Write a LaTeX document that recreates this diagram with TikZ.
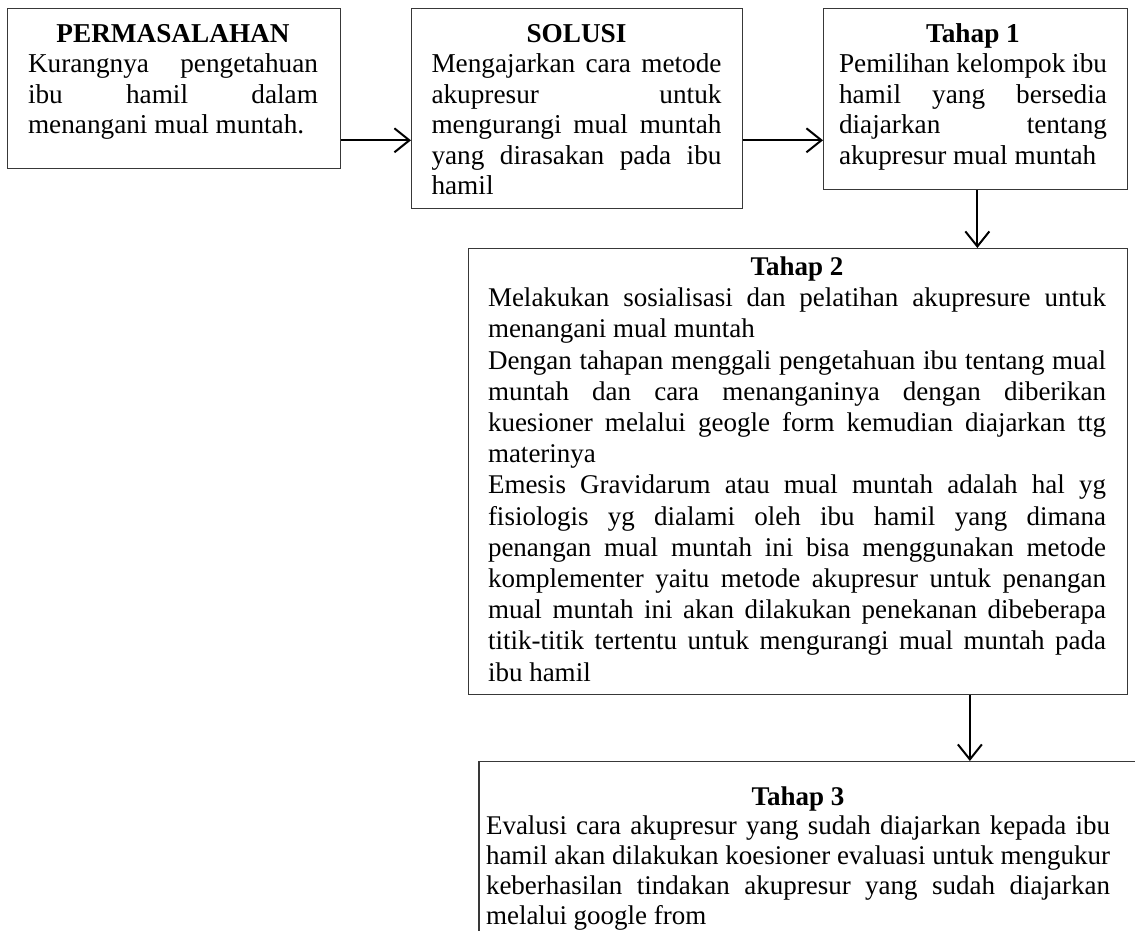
\documentclass[tikz,border=0pt]{standalone}
\usepackage{fontspec}
\setmainfont{Liberation Serif}
\usetikzlibrary{arrows.meta}
\hbadness=10000
\newcommand{\upperfont}{\fontsize{27.25}{30.5}\selectfont}
\newcommand{\midfont}{\fontsize{27}{31.2}\selectfont}
\newcommand{\lowfont}{\fontsize{27}{29.75}\selectfont}
\begin{document}
\begin{tikzpicture}[x=1pt,y=-1pt,
  box/.style={draw=black!78, line width=1.3pt, inner sep=0pt, anchor=north west, rectangle},
  txt/.style={inner sep=0pt, anchor=base},
  arr/.style={line width=2pt, -{Straight Barb[length=15pt,width=24pt]}},
]
\useasboundingbox (0,0) rectangle (1135,930);
\clip (0,0) rectangle (1135,930);
\fill[white] (0,0) rectangle (1135,930);

% boxes
\node[box, minimum width=333pt, minimum height=160pt] (b1) at (7,8) {};
\node[box, minimum width=331pt, minimum height=200pt] (b2) at (411,8) {};
\node[box, minimum width=304pt, minimum height=181pt] (b3) at (823,8) {};
\node[box, minimum width=659pt, minimum height=445.5pt] (b4) at (467.7,248) {};
\node[box, minimum width=700pt, minimum height=250pt] (b5) at (478.3,761) {};

% texts
\node[txt] (t1) at (173,42) {\parbox[t]{290pt}{\upperfont{\centering\bfseries PERMASALAHAN\par}Kurangnya pengetahuan\linebreak ibu hamil dalam\linebreak menangani mual muntah.}};
\node[txt] (t2) at (576.5,42) {\parbox[t]{290pt}{\upperfont{\centering\bfseries SOLUSI\par}Mengajarkan cara metode\linebreak akupresur untuk\linebreak mengurangi mual muntah\linebreak yang dirasakan pada ibu\linebreak hamil}};
\node[txt] (t3) at (973,42) {\parbox[t]{268pt}{\upperfont{\centering\bfseries Tahap 1\par}Pemilihan kelompok ibu\linebreak hamil yang bersedia\linebreak diajarkan tentang\linebreak akupresur mual muntah}};
\node[txt] (t4) at (797,275.5) {\parbox[t]{618pt}{\midfont{\centering\bfseries Tahap 2\par}Melakukan sosialisasi dan pelatihan akupresure untuk\linebreak menangani mual muntah\par
Dengan tahapan menggali pengetahuan ibu tentang mual\linebreak muntah dan cara menanganinya dengan diberikan\linebreak kuesioner melalui geogle form kemudian diajarkan ttg\linebreak materinya\par
Emesis Gravidarum atau mual muntah adalah hal yg\linebreak fisiologis yg dialami oleh ibu hamil yang dimana\linebreak penangan mual muntah ini bisa menggunakan metode\linebreak komplementer yaitu metode akupresur untuk penangan\linebreak mual muntah ini akan dilakukan penekanan dibeberapa\linebreak titik-titik tertentu untuk mengurangi mual muntah pada\linebreak ibu hamil}};
\node[txt] (t5) at (798,805) {\parbox[t]{624pt}{\lowfont{\centering\bfseries Tahap 3\par}Evalusi cara akupresur yang sudah diajarkan kepada ibu\linebreak hamil akan dilakukan koesioner evaluasi untuk mengukur\linebreak keberhasilan tindakan akupresur yang sudah diajarkan\linebreak melalui google from}};

% connectors
\coordinate (a1) at ([yshift=29pt]b1.south east);
\draw[arr] (a1) -- (a1 -| b2.west);
\draw[arr] (a1 -| b2.east) -- (a1 -| b3.west);
\coordinate (a3) at ([xshift=1.7pt]b3.south);
\draw[arr] (a3) -- (a3 |- b4.north);
\coordinate (a4) at ([xshift=172pt]b4.south);
\draw[arr] (a4) -- (a4 |- b5.north);
\end{tikzpicture}
\end{document}
